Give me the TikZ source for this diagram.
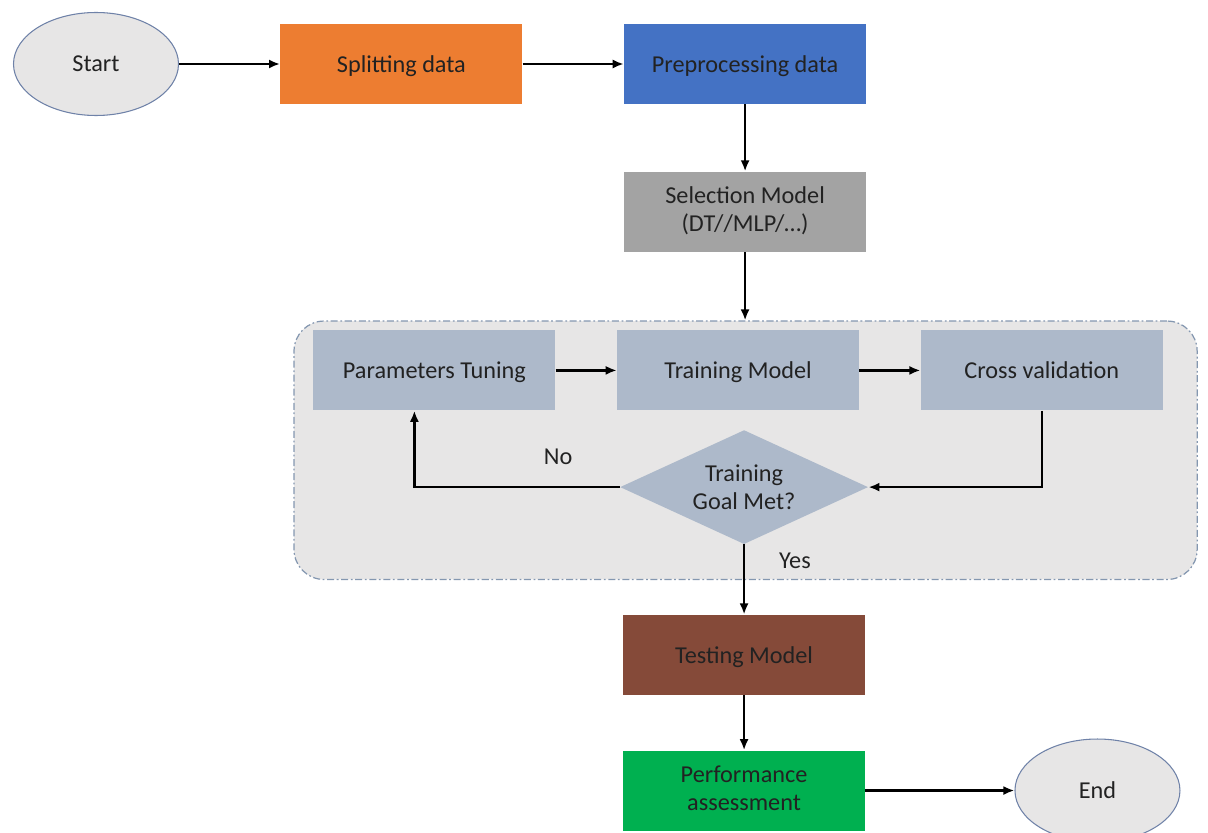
\documentclass[tikz,border=0pt]{standalone}
\usepackage{fontspec}
\setmainfont{Carlito}
\usepackage{tikz}
\usetikzlibrary{positioning, fit, arrows.meta, shapes.geometric, backgrounds}

\definecolor{termfill}{HTML}{E7E6E6}
\definecolor{termline}{HTML}{6F82A8}
\definecolor{splitcol}{HTML}{ED7D31}
\definecolor{prepcol}{HTML}{4472C4}
\definecolor{selcol}{HTML}{A3A3A3}
\definecolor{loopcol}{HTML}{ADB9CA}
\definecolor{testcol}{HTML}{854A39}
\definecolor{perfcol}{HTML}{00B050}
\definecolor{grpline}{HTML}{8497B0}
\definecolor{txtcol}{HTML}{222222}
\newcommand{\boxstrut}{\rule[-3pt]{0pt}{15.5pt}}

\begin{document}
\begin{tikzpicture}[
    	font=\fontsize{13.8}{16}\selectfont, text=txtcol,
    	term/.style={ellipse, draw=termline, line width=0.6pt, fill=termfill, minimum width=3.3cm, minimum height=2.06cm},
    	box/.style={rectangle, minimum width=4.84cm, minimum height=1.6cm, align=center, execute at begin node=\boxstrut, execute at end node=\boxstrut},
    	decision/.style={diamond, fill=loopcol, aspect=2.2, inner sep=0pt, minimum width=4.96cm, minimum height=2.28cm, align=center},
    	grpbox/.style={draw=grpline, line width=0.7pt, fill=termfill, rounded corners=0.6cm, dash pattern=on 4pt off 1.5pt on 1pt off 1.5pt},
    	arr/.style={-{Latex[length=2.2mm, width=1.8mm]}, line width=1.3pt},
    ]
    \useasboundingbox (0,0) rectangle (24.16,-16.66);
    % Top row
    \node[term] (start) at (1.92,-1.28) {Start};
    \node[box, fill=splitcol, right=2.02cm of start] (split) {Splitting data};
    \node[box, fill=prepcol, right=2.02cm of split] (prep) {Preprocessing data};
    \node[box, fill=selcol, below=1.34cm of prep] (sel) {Selection Model\\(DT//MLP/\ldots)};
    % Training loop
    \node[box, fill=loopcol, below=1.56cm of sel, xshift=-0.14cm] (train) {Training Model};
    \node[box, fill=loopcol, left=1.22cm of train] (param) {Parameters Tuning};
    \node[box, fill=loopcol, right=1.22cm of train] (cross) {Cross validation};
    \node[decision, below=0.38cm of train, xshift=0.12cm] (goal) {Training\\Goal Met?};
    % Bottom
    \node[box, fill=testcol, below=1.4cm of goal] (test) {Testing Model};
    \node[box, fill=perfcol, below=1.1cm of test] (perf) {Performance\\assessment};
    \node[term, right=2.98cm of perf] (end) {End};
    % Group frame
    \coordinate (grp_nw) at ([shift={(-0.38cm,0.18cm)}]param.north west);
    \path (cross.east |- goal.south) ++(0.68cm,-0.7cm) coordinate (grp_se);
    \begin{pgfonlayer}{background}
    \node[grpbox, inner sep=0pt, fit=(grp_nw) (grp_se)] (grp) {};
    \end{pgfonlayer}
    
    % Edges
    \draw[arr] (start) -- (split);
    \draw[arr] (split) -- (prep);
    \draw[arr] (prep) -- (sel);
    \draw[arr] (sel) -- (sel |- grp.north);
    \draw[arr] (param) -- (train);
    \draw[arr] (train) -- (cross);
    \draw[arr] (cross.south) |- (goal.east);
    \draw[arr] (goal.west) -| ([xshift=-0.4cm]param.south) node[pos=0.15, above=0.3cm] {No};
    \draw[arr] (goal.south) -- (test.north) node[pos=0.23, right=0.56cm] {Yes};
    \draw[arr] (test) -- (perf);
    \draw[arr] (perf) -- (end);
\end{tikzpicture}
\end{document}
